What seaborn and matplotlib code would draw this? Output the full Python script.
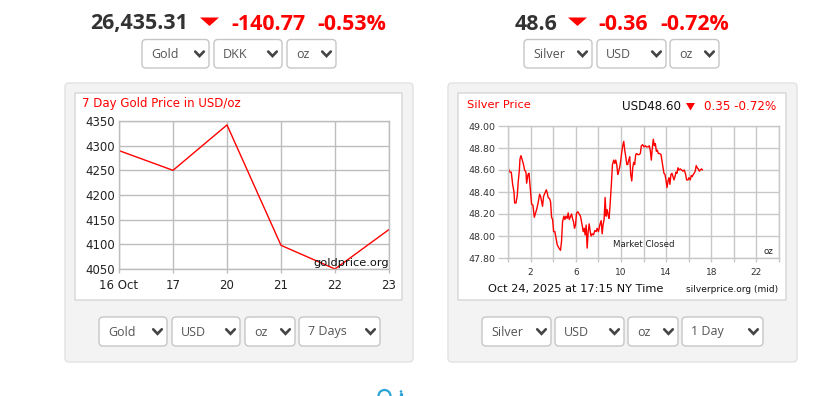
import matplotlib
matplotlib.use("Agg")
import numpy as np
import pandas as pd
import seaborn as sns
import matplotlib.pyplot as plt
import matplotlib.transforms as mtrans
from matplotlib.patches import FancyBboxPatch, Polygon, Circle, Arc
from matplotlib.lines import Line2D

# ---------------- data ----------------
gold_days = ["16 Oct", "17", "20", "21", "22", "23"]
gold_prices = [4290, 4250, 4342, 4098, 4050, 4130]
gold_yticks = [4050, 4100, 4150, 4200, 4250, 4300, 4350]

silver_hours = [
    0.00, 0.18, 0.29, 0.41, 0.53, 0.59, 0.71, 0.82, 0.91, 1.00, 1.06, 1.15, 1.24, 1.35,
    1.47, 1.59, 1.65, 1.77, 1.86, 1.94, 2.00, 2.09, 2.21, 2.33, 2.44, 2.56, 2.68, 2.80,
    2.89, 2.97, 3.06, 3.15, 3.27, 3.39, 3.48, 3.56, 3.68, 3.77, 3.86, 3.95, 4.04, 4.15,
    4.24, 4.36, 4.51, 4.65, 4.74, 4.83, 4.95, 5.04, 5.13, 5.24, 5.33, 5.42, 5.54, 5.63,
    5.71, 5.80, 5.89, 5.98, 6.07, 6.19, 6.30, 6.42, 6.51, 6.60, 6.66, 6.75, 6.83, 6.92,
    7.01, 7.10, 7.19, 7.28, 7.36, 7.45, 7.57, 7.69, 7.81, 7.89, 8.01, 8.13, 8.25, 8.34,
    8.42, 8.51, 8.60, 8.69, 8.78, 8.87, 8.95, 9.04, 9.16, 9.25, 9.37, 9.46, 9.54, 9.63,
    9.72, 9.81, 9.90, 9.99, 10.07, 10.16, 10.25, 10.34, 10.43, 10.52, 10.60, 10.69,
    10.78, 10.87, 10.96, 11.05, 11.13, 11.22, 11.31, 11.40, 11.49, 11.61, 11.72, 11.81,
    11.93, 12.05, 12.16, 12.28, 12.40, 12.52, 12.61, 12.69, 12.78, 12.87, 12.96, 13.05,
    13.14, 13.23, 13.31, 13.43, 13.55, 13.64, 13.73, 13.81, 13.90, 13.99, 14.08, 14.17,
    14.26, 14.34, 14.43, 14.52, 14.61, 14.70, 14.79, 14.87, 14.96, 15.05, 15.14, 15.26,
    15.38, 15.49, 15.61, 15.73, 15.82, 15.94, 16.02, 16.14, 16.23, 16.32, 16.41, 16.49,
    16.58, 16.67, 16.76, 16.85, 16.94, 17.03, 17.14, 17.23,
]
silver_prices = [
    48.62, 48.58, 48.58, 48.47, 48.40, 48.30, 48.30, 48.37, 48.50, 48.59, 48.70, 48.73, 48.70, 48.66,
    48.60, 48.58, 48.48, 48.56, 48.57, 48.47, 48.39, 48.29, 48.28, 48.17, 48.21, 48.25, 48.31, 48.38,
    48.36, 48.32, 48.27, 48.36, 48.39, 48.42, 48.39, 48.35, 48.34, 48.31, 48.17, 48.15, 48.04, 48.04,
    47.99, 47.92, 47.89, 47.87, 47.95, 48.13, 48.18, 48.15, 48.18, 48.16, 48.21, 48.15, 48.18, 48.20,
    48.16, 48.13, 48.07, 48.10, 48.21, 48.22, 48.20, 48.18, 48.13, 48.08, 48.04, 48.07, 48.01, 48.10,
    47.89, 48.04, 48.11, 48.04, 48.00, 48.02, 48.01, 48.05, 48.04, 48.07, 48.04, 48.10, 48.14, 48.02,
    48.10, 48.15, 48.35, 48.18, 48.24, 48.19, 48.16, 48.28, 48.48, 48.65, 48.69, 48.66, 48.69, 48.65,
    48.56, 48.59, 48.63, 48.69, 48.76, 48.82, 48.86, 48.78, 48.72, 48.65, 48.65, 48.69,
    48.72, 48.56, 48.50, 48.62, 48.67, 48.65, 48.74, 48.75, 48.74, 48.74, 48.75, 48.82,
    48.83, 48.81, 48.82, 48.81, 48.81, 48.82, 48.77, 48.69, 48.80, 48.88, 48.82, 48.84,
    48.77, 48.78, 48.75, 48.75, 48.74, 48.68, 48.62, 48.57, 48.56, 48.51, 48.44, 48.50,
    48.53, 48.47, 48.56, 48.57, 48.54, 48.51, 48.54, 48.58, 48.57, 48.62, 48.60, 48.61,
    48.60, 48.59, 48.60, 48.56, 48.51, 48.51, 48.53, 48.51, 48.55, 48.54, 48.56, 48.57,
    48.59, 48.64, 48.62, 48.61, 48.59, 48.60, 48.61, 48.60,
]
silver_yticks = [47.80, 48.00, 48.20, 48.40, 48.60, 48.80, 49.00]
silver_xticks = [0, 2, 4, 6, 8, 10, 12, 14, 16, 18, 20, 22, 24]
silver_xticklabels = ["", "2", "", "6", "", "10", "", "14", "", "18", "", "22", ""]

gold_header = ["26,435.31", "-140.77", "-0.53%"]
silver_header = ["48.6", "-0.36", "-0.72%"]
gold_selects_top = ["Gold", "DKK", "oz"]
silver_selects_top = ["Silver", "USD", "oz"]
gold_selects_bottom = ["Gold", "USD", "oz", "7 Days"]
silver_selects_bottom = ["Silver", "USD", "oz", "1 Day"]

# ---------------- figure ----------------
W, H = 819, 396
sns.set_theme(style="white")
plt.rcParams["font.family"] = ["DejaVu Sans"]
fig = plt.figure(figsize=(W / 100, H / 100), dpi=100)
fig.patch.set_facecolor("white")
PX = mtrans.Affine2D().scale(1 / W, -1 / H).translate(0, 1) + fig.transFigure

RED = "#ff0000"
DARK = "#333333"


def rbox(x0, y0, x1, y1, fc, ec, r=4, lw=1.0, z=0):
    p = FancyBboxPatch((x0 + r, y0 + r), x1 - x0 - 2 * r, y1 - y0 - 2 * r,
                       boxstyle=f"round,pad={r}", fc=fc, ec=ec, lw=lw,
                       transform=PX, zorder=z)
    fig.add_artist(p)


def dropdown(x0, x1, y0, y1, label):
    rbox(x0, y0, x1, y1, "white", "#c6c6c6", r=4, lw=1.0, z=2)
    cy = (y0 + y1) / 2
    fig.text(x0 + 9, cy + 0.5, label, transform=PX, ha="left", va="center",
             fontsize=9, color="#555555", family="Open Sans", zorder=3)
    cx = x1 - 9.5
    fig.add_artist(Line2D([cx - 4.3, cx, cx + 4.3], [cy - 2.2, cy + 2.3, cy - 2.2],
                          transform=PX, color="#444444", lw=1.9, zorder=3,
                          solid_joinstyle="miter"))


def tri(x0, x1, y0, y1):
    fig.add_artist(Polygon([(x0, y0), (x1, y0), ((x0 + x1) / 2, y1)], closed=True,
                           fc=RED, ec="none", transform=PX, zorder=3))


# ---- headers ----
hdr_kw = dict(transform=PX, va="center", fontsize=15.4, family="Open Sans",
              fontweight="bold")
fig.text(90, 24, gold_header[0], ha="left", color=DARK, **hdr_kw)
tri(200, 219, 17.5, 26)
fig.text(231, 24, gold_header[1], ha="left", color=RED, **hdr_kw)
fig.text(317, 24, gold_header[2], ha="left", color=RED, **hdr_kw)

fig.text(515, 24, silver_header[0], ha="left", color=DARK, **hdr_kw)
tri(568, 587, 17.5, 26)
fig.text(598, 24, silver_header[1], ha="left", color=RED, **hdr_kw)
fig.text(660, 24, silver_header[2], ha="left", color=RED, **hdr_kw)

for (a, b), lab in zip([(142, 209), (214, 282), (287, 336)], gold_selects_top):
    dropdown(a, b, 39.5, 68, lab)
for (a, b), lab in zip([(524, 592), (597, 666), (670, 719)], silver_selects_top):
    dropdown(a, b, 39.5, 68, lab)

# ---- panels ----
rbox(65, 83, 413, 362, "#f3f3f3", "#e2e2e2", r=4, z=0)
rbox(448, 83, 797, 362, "#f3f3f3", "#e2e2e2", r=4, z=0)
rbox(75, 93, 402, 300, "white", "#d6d6d6", r=0.5, z=1)
rbox(458, 93, 786, 300, "white", "#d6d6d6", r=0.5, z=1)

for (a, b), lab in zip([(99, 167), (172, 240), (245, 295), (299, 380)], gold_selects_bottom):
    dropdown(a, b, 317, 346, lab)
for (a, b), lab in zip([(482, 551), (555, 624), (628, 678), (682, 763)], silver_selects_bottom):
    dropdown(a, b, 317, 346, lab)


def ax_at(x0, x1, y0, y1):
    return fig.add_axes([x0 / W, 1 - y1 / H, (x1 - x0) / W, (y1 - y0) / H], zorder=5)


GRID = "#bdbdbd"

# ---- gold chart ----
axg = ax_at(119, 389, 121, 269)
gdf = pd.DataFrame({"day": gold_days, "price": gold_prices})
sns.lineplot(data=gdf, x="day", y="price", sort=False, color=RED, lw=1.0, ax=axg)
axg.set_xlim(0, len(gold_days) - 1)
axg.set_ylim(gold_yticks[0], gold_yticks[-1])
axg.set_yticks(gold_yticks)
axg.set_xticks(range(len(gold_days)))
axg.set_xticklabels(gold_days)
axg.set_xlabel("")
axg.set_ylabel("")
axg.set_facecolor("none")
axg.grid(True, color=GRID, lw=1.0)
axg.set_axisbelow(True)
for s in axg.spines.values():
    s.set_color(GRID)
    s.set_linewidth(1.0)
axg.tick_params(axis="y", length=0, pad=3, labelsize=8.5, labelcolor="#222222")
axg.tick_params(axis="x", length=3, width=1, color=GRID, pad=4, labelsize=8.5,
                labelcolor="#222222", bottom=True)
fig.text(82, 104, "7 Day Gold Price in USD/oz", transform=PX, ha="left", va="center",
         fontsize=8.5, color=RED, zorder=6)
fig.text(389, 263, "goldprice.org", transform=PX, ha="right", va="center",
         fontsize=8.2, color="#111111", zorder=6)

# ---- silver chart ----
axs = ax_at(508, 779, 126, 258)
sdf = pd.DataFrame({"hour": silver_hours, "price": silver_prices})
sns.lineplot(data=sdf, x="hour", y="price", sort=False, color=RED, lw=1.0, ax=axs)
axs.set_xlim(0, 24)
axs.set_ylim(silver_yticks[0], silver_yticks[-1])
axs.set_yticks(silver_yticks)
axs.set_yticklabels([f"{v:.2f}" for v in silver_yticks])
axs.set_xticks(silver_xticks)
axs.set_xticklabels(silver_xticklabels)
axs.set_xlabel("")
axs.set_ylabel("")
axs.set_facecolor("none")
axs.grid(True, color="#c8c8c8", lw=1.0)
axs.set_axisbelow(True)
for s in axs.spines.values():
    s.set_color("#c8c8c8")
    s.set_linewidth(1.0)
axs.tick_params(axis="y", length=7, width=1, color="#c8c8c8", pad=2, labelsize=6.8,
                labelcolor="#333333", left=True)
axs.tick_params(axis="x", length=3, width=1, color="#c8c8c8", pad=4, labelsize=6.5,
                labelcolor="#333333", bottom=True)
axs.text(0.5, 0.1, "Market Closed", transform=axs.transAxes, ha="center", va="center",
         fontsize=6.2, color="#222222", zorder=6)
fig.text(768.5, 251.5, "oz", transform=PX, ha="center", va="center", fontsize=6.2,
         color="#222222", zorder=6)
fig.text(467, 105, "Silver Price", transform=PX, ha="left", va="center",
         fontsize=8.2, color=RED, zorder=6)
fig.text(622, 106.5, "USD48.60", transform=PX, ha="left", va="center",
         fontsize=8.6, color="#111111", zorder=6)
fig.add_artist(Polygon([(686, 103), (695, 103), (690.5, 110.5)], closed=True,
                       fc=RED, ec="none", transform=PX, zorder=6))
fig.text(776, 106.5, "0.35 -0.72%", transform=PX, ha="right", va="center",
         fontsize=8.6, color=RED, zorder=6)
fig.text(488, 289, "Oct 24, 2025 at 17:15 NY Time", transform=PX, ha="left", va="center",
         fontsize=8.2, color="#111111", zorder=6)
fig.text(778, 289, "silverprice.org (mid)", transform=PX, ha="right", va="center",
         fontsize=6.5, color="#111111", zorder=6)

# ---- bottom partial icons ----
fig.add_artist(Circle((384.5, 396), 6, fc="none", ec="#2aa5d6", lw=1.6, transform=PX))
fig.add_artist(Circle((401, 391.5), 1.3, fc="#2aa5d6", ec="none", transform=PX))
fig.add_artist(Line2D([401, 401], [394, 397], color="#2aa5d6", lw=2.4, transform=PX))
fig.add_artist(Arc((351.5, 397.5), 8, 8, theta1=0, theta2=180, ec="#9a9a9a", lw=1.3,
                   transform=PX))

fig.savefig("out.png", dpi=100, facecolor="white")
